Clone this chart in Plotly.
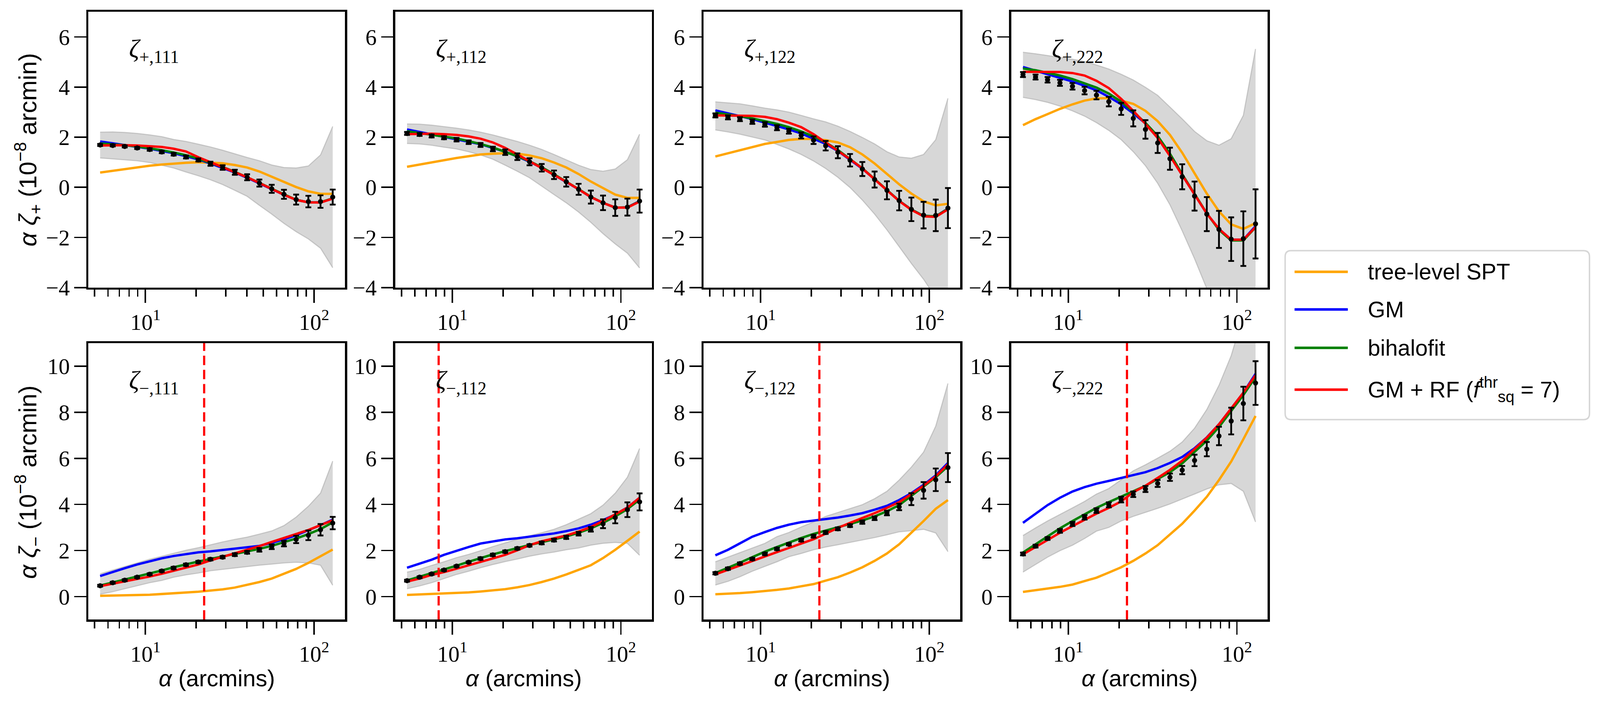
import plotly.graph_objects as go
from plotly.subplots import make_subplots

# angular scale alpha (arcmin), 20 log-spaced bins
alpha = [5.39, 6.40, 7.54, 8.93, 10.6, 12.5, 14.7, 17.4, 20.6, 24.3,
         28.7, 33.9, 40.1, 47.4, 56.1, 66.3, 78.3, 92.5, 109.2, 129.0]

# ---- zeta_+ (top row) ----
zp111_data = [1.69, 1.67, 1.63, 1.57, 1.51, 1.41, 1.32, 1.21, 1.09, 0.94, 0.79, 0.60, 0.40, 0.17, -0.06, -0.28, -0.49, -0.57, -0.57, -0.39]
zp111_err = [0.04, 0.04, 0.04, 0.04, 0.05, 0.05, 0.05, 0.06, 0.06, 0.08, 0.09, 0.10, 0.12, 0.14, 0.16, 0.18, 0.20, 0.23, 0.25, 0.30]
zp111_hi = [2.20, 2.21, 2.19, 2.15, 2.09, 2.02, 1.91, 1.83, 1.72, 1.61, 1.48, 1.33, 1.19, 1.06, 0.89, 0.79, 0.77, 0.85, 1.29, 2.43]
zp111_lo = [1.17, 1.13, 1.10, 1.06, 0.99, 0.88, 0.77, 0.61, 0.46, 0.30, 0.11, -0.12, -0.36, -0.72, -1.07, -1.44, -1.77, -2.06, -2.43, -3.21]
zp111_spt = [0.59, 0.66, 0.73, 0.80, 0.86, 0.91, 0.95, 0.98, 1.00, 0.99, 0.96, 0.89, 0.79, 0.63, 0.42, 0.21, 0.01, -0.16, -0.26, -0.26]
zp111_gm = [1.83, 1.76, 1.69, 1.62, 1.54, 1.45, 1.36, 1.24, 1.11, 0.95, 0.78, 0.59, 0.38, 0.15, -0.08, -0.30, -0.50, -0.60, -0.60, -0.45]
zp111_bh = [1.75, 1.72, 1.68, 1.63, 1.56, 1.48, 1.39, 1.28, 1.14, 0.98, 0.81, 0.62, 0.41, 0.18, -0.06, -0.29, -0.50, -0.60, -0.60, -0.44]
zp111_rf = [1.67, 1.68, 1.68, 1.67, 1.65, 1.61, 1.54, 1.43, 1.20, 1.00, 0.81, 0.61, 0.40, 0.17, -0.07, -0.30, -0.50, -0.60, -0.61, -0.45]

zp112_data = [2.15, 2.11, 2.05, 1.98, 1.90, 1.80, 1.69, 1.53, 1.40, 1.22, 1.02, 0.78, 0.50, 0.22, -0.08, -0.39, -0.62, -0.81, -0.79, -0.55]
zp112_err = [0.06, 0.06, 0.06, 0.06, 0.07, 0.07, 0.08, 0.09, 0.11, 0.13, 0.14, 0.15, 0.17, 0.19, 0.22, 0.26, 0.29, 0.33, 0.34, 0.46]
zp112_hi = [2.53, 2.52, 2.48, 2.42, 2.36, 2.29, 2.20, 2.09, 1.96, 1.83, 1.68, 1.51, 1.31, 1.10, 0.88, 0.71, 0.64, 0.73, 1.10, 2.12]
zp112_lo = [1.75, 1.73, 1.68, 1.60, 1.53, 1.42, 1.29, 1.12, 0.88, 0.64, 0.38, 0.04, -0.29, -0.62, -0.99, -1.40, -1.85, -2.26, -2.63, -3.22]
zp112_spt = [0.82, 0.91, 1.00, 1.09, 1.17, 1.24, 1.31, 1.34, 1.36, 1.34, 1.27, 1.16, 0.99, 0.79, 0.53, 0.23, -0.04, -0.29, -0.42, -0.42]
zp112_gm = [2.31, 2.21, 2.12, 2.03, 1.93, 1.83, 1.72, 1.57, 1.42, 1.23, 1.02, 0.78, 0.50, 0.22, -0.08, -0.39, -0.62, -0.81, -0.80, -0.55]
zp112_bh = [2.24, 2.17, 2.10, 2.03, 1.95, 1.84, 1.73, 1.59, 1.42, 1.24, 1.04, 0.80, 0.52, 0.23, -0.07, -0.38, -0.62, -0.81, -0.80, -0.56]
zp112_rf = [2.12, 2.13, 2.14, 2.12, 2.09, 2.03, 1.94, 1.79, 1.57, 1.31, 1.04, 0.79, 0.51, 0.22, -0.08, -0.39, -0.62, -0.81, -0.81, -0.57]

zp122_data = [2.87, 2.79, 2.72, 2.62, 2.51, 2.38, 2.24, 2.07, 1.88, 1.66, 1.40, 1.08, 0.73, 0.31, -0.12, -0.53, -0.88, -1.11, -1.12, -0.83]
zp122_err = [0.08, 0.08, 0.08, 0.09, 0.09, 0.10, 0.10, 0.12, 0.15, 0.19, 0.24, 0.25, 0.28, 0.32, 0.36, 0.39, 0.47, 0.53, 0.63, 0.80]
zp122_hi = [3.41, 3.37, 3.33, 3.25, 3.16, 3.09, 3.00, 2.87, 2.73, 2.61, 2.44, 2.23, 1.99, 1.73, 1.42, 1.21, 1.16, 1.31, 1.90, 3.55]
zp122_lo = [2.29, 2.21, 2.12, 2.01, 1.89, 1.71, 1.53, 1.31, 1.05, 0.75, 0.40, -0.01, -0.51, -1.07, -1.70, -2.37, -3.04, -3.67, -4.40, -5.00]
zp122_spt = [1.23, 1.36, 1.49, 1.61, 1.73, 1.81, 1.89, 1.93, 1.93, 1.88, 1.79, 1.60, 1.31, 0.95, 0.54, 0.12, -0.25, -0.56, -0.72, -0.66]
zp122_gm = [3.07, 2.96, 2.84, 2.72, 2.58, 2.44, 2.31, 2.15, 1.95, 1.73, 1.45, 1.10, 0.74, 0.32, -0.12, -0.54, -0.89, -1.14, -1.16, -0.85]
zp122_bh = [2.98, 2.92, 2.84, 2.75, 2.64, 2.53, 2.40, 2.23, 2.03, 1.79, 1.49, 1.13, 0.76, 0.33, -0.11, -0.54, -0.89, -1.14, -1.16, -0.86]
zp122_rf = [2.87, 2.87, 2.87, 2.85, 2.81, 2.72, 2.58, 2.40, 2.12, 1.79, 1.46, 1.12, 0.75, 0.32, -0.12, -0.55, -0.90, -1.16, -1.18, -0.88]

zp222_data = [4.50, 4.40, 4.29, 4.17, 4.03, 3.86, 3.68, 3.42, 3.13, 2.75, 2.31, 1.77, 1.14, 0.42, -0.35, -1.07, -1.68, -2.07, -2.05, -1.46]
zp222_err = [0.10, 0.10, 0.11, 0.12, 0.13, 0.15, 0.17, 0.19, 0.24, 0.32, 0.37, 0.40, 0.44, 0.50, 0.58, 0.68, 0.74, 0.87, 1.09, 1.38]
zp222_hi = [5.39, 5.33, 5.26, 5.18, 5.11, 5.02, 4.88, 4.72, 4.51, 4.28, 3.99, 3.67, 3.20, 2.73, 2.23, 1.86, 1.68, 1.94, 2.87, 5.52]
zp222_lo = [3.59, 3.50, 3.39, 3.24, 3.05, 2.84, 2.58, 2.27, 1.90, 1.42, 0.86, 0.16, -0.70, -1.74, -2.85, -4.04, -5.20, -6.40, -7.60, -8.80]
zp222_spt = [2.48, 2.72, 2.92, 3.13, 3.31, 3.46, 3.55, 3.56, 3.46, 3.33, 3.05, 2.64, 2.09, 1.38, 0.56, -0.25, -0.96, -1.48, -1.66, -1.43]
zp222_gm = [4.80, 4.65, 4.51, 4.37, 4.22, 4.05, 3.87, 3.61, 3.31, 2.95, 2.55, 2.01, 1.27, 0.49, -0.30, -1.05, -1.66, -2.09, -2.09, -1.55]
zp222_bh = [4.74, 4.67, 4.57, 4.46, 4.32, 4.16, 3.98, 3.74, 3.42, 3.01, 2.57, 2.05, 1.34, 0.52, -0.28, -1.04, -1.70, -2.12, -2.12, -1.60]
zp222_rf = [4.61, 4.61, 4.61, 4.60, 4.56, 4.46, 4.25, 3.96, 3.53, 3.05, 2.53, 1.97, 1.25, 0.49, -0.29, -1.05, -1.66, -2.09, -2.09, -1.59]

# ---- zeta_- (bottom row) ----
zm111_data = [0.47, 0.60, 0.71, 0.84, 0.97, 1.11, 1.24, 1.38, 1.50, 1.62, 1.71, 1.82, 1.92, 2.03, 2.16, 2.30, 2.48, 2.66, 2.90, 3.19]
zm111_err = [0.04, 0.04, 0.04, 0.04, 0.04, 0.04, 0.05, 0.05, 0.05, 0.05, 0.05, 0.06, 0.06, 0.08, 0.10, 0.12, 0.16, 0.21, 0.25, 0.27]
zm111_hi = [0.99, 1.15, 1.31, 1.46, 1.62, 1.75, 1.88, 2.01, 2.12, 2.25, 2.37, 2.48, 2.58, 2.71, 2.85, 3.08, 3.45, 3.92, 4.49, 5.88]
zm111_lo = [0.10, 0.21, 0.34, 0.47, 0.60, 0.70, 0.84, 0.94, 1.02, 1.12, 1.18, 1.25, 1.31, 1.36, 1.41, 1.46, 1.49, 1.46, 1.36, 0.49]
zm111_spt = [0.03, 0.04, 0.05, 0.06, 0.08, 0.11, 0.14, 0.17, 0.21, 0.26, 0.31, 0.39, 0.50, 0.63, 0.78, 0.99, 1.20, 1.46, 1.75, 2.04]
zm111_gm = [0.89, 1.07, 1.23, 1.39, 1.54, 1.66, 1.76, 1.85, 1.92, 1.96, 2.02, 2.06, 2.12, 2.20, 2.33, 2.48, 2.66, 2.87, 3.10, 3.34]
zm111_bh = [0.48, 0.61, 0.73, 0.86, 1.00, 1.13, 1.27, 1.40, 1.52, 1.63, 1.74, 1.85, 1.95, 2.07, 2.20, 2.35, 2.52, 2.71, 2.93, 3.22]
zm111_rf = [0.45, 0.55, 0.66, 0.76, 0.87, 0.99, 1.12, 1.25, 1.39, 1.57, 1.72, 1.88, 2.04, 2.19, 2.37, 2.54, 2.72, 2.89, 3.10, 3.31]

zm112_data = [0.69, 0.84, 0.98, 1.15, 1.32, 1.49, 1.65, 1.81, 1.95, 2.09, 2.22, 2.33, 2.45, 2.57, 2.73, 2.92, 3.16, 3.43, 3.77, 4.11]
zm112_err = [0.04, 0.04, 0.04, 0.04, 0.04, 0.04, 0.05, 0.05, 0.05, 0.05, 0.05, 0.06, 0.06, 0.07, 0.08, 0.10, 0.19, 0.25, 0.32, 0.37]
zm112_hi = [1.06, 1.18, 1.35, 1.51, 1.69, 1.83, 1.99, 2.17, 2.33, 2.48, 2.64, 2.77, 2.92, 3.12, 3.36, 3.60, 3.97, 4.49, 5.18, 6.43]
zm112_lo = [0.34, 0.46, 0.60, 0.78, 0.96, 1.10, 1.25, 1.39, 1.52, 1.63, 1.75, 1.85, 1.93, 2.03, 2.11, 2.23, 2.31, 2.35, 2.31, 1.79]
zm112_spt = [0.07, 0.09, 0.11, 0.13, 0.15, 0.18, 0.22, 0.27, 0.32, 0.40, 0.50, 0.63, 0.78, 0.96, 1.15, 1.36, 1.67, 2.03, 2.42, 2.82]
zm112_gm = [1.25, 1.43, 1.60, 1.81, 1.99, 2.15, 2.30, 2.40, 2.48, 2.53, 2.60, 2.65, 2.74, 2.84, 2.96, 3.12, 3.32, 3.56, 3.87, 4.29]
zm112_bh = [0.70, 0.86, 1.00, 1.17, 1.34, 1.51, 1.67, 1.83, 1.97, 2.11, 2.24, 2.36, 2.48, 2.61, 2.77, 2.96, 3.20, 3.48, 3.80, 4.21]
zm112_rf = [0.65, 0.78, 0.94, 1.06, 1.21, 1.36, 1.49, 1.65, 1.81, 2.01, 2.23, 2.40, 2.52, 2.65, 2.82, 3.02, 3.28, 3.56, 3.86, 4.29]

zm122_data = [1.01, 1.21, 1.43, 1.63, 1.85, 2.07, 2.27, 2.45, 2.62, 2.78, 2.94, 3.08, 3.23, 3.40, 3.63, 3.89, 4.23, 4.61, 5.07, 5.60]
zm122_err = [0.05, 0.05, 0.05, 0.05, 0.05, 0.05, 0.05, 0.06, 0.06, 0.06, 0.06, 0.06, 0.07, 0.08, 0.10, 0.14, 0.26, 0.36, 0.49, 0.63]
zm122_hi = [1.51, 1.71, 1.91, 2.11, 2.31, 2.60, 2.78, 3.02, 3.24, 3.48, 3.65, 3.81, 3.99, 4.25, 4.57, 5.06, 5.62, 6.27, 7.40, 9.25]
zm122_lo = [0.50, 0.66, 0.86, 1.10, 1.31, 1.51, 1.73, 1.87, 2.03, 2.15, 2.25, 2.35, 2.46, 2.56, 2.68, 2.81, 2.86, 2.92, 2.76, 1.95]
zm122_spt = [0.10, 0.12, 0.15, 0.19, 0.23, 0.29, 0.35, 0.44, 0.54, 0.69, 0.84, 1.04, 1.27, 1.55, 1.87, 2.27, 2.76, 3.28, 3.81, 4.19]
zm122_gm = [1.79, 2.03, 2.31, 2.60, 2.80, 2.98, 3.12, 3.23, 3.30, 3.36, 3.43, 3.52, 3.62, 3.77, 3.94, 4.19, 4.49, 4.85, 5.26, 5.80]
zm122_bh = [1.02, 1.24, 1.47, 1.71, 1.95, 2.15, 2.35, 2.54, 2.72, 2.86, 3.00, 3.15, 3.30, 3.48, 3.70, 3.97, 4.37, 4.77, 5.18, 5.66]
zm122_rf = [0.96, 1.16, 1.36, 1.56, 1.75, 1.93, 2.11, 2.30, 2.49, 2.73, 2.98, 3.20, 3.40, 3.62, 3.85, 4.10, 4.45, 4.81, 5.22, 5.74]

zm222_data = [1.85, 2.19, 2.52, 2.85, 3.15, 3.44, 3.73, 3.98, 4.21, 4.44, 4.67, 4.91, 5.18, 5.49, 5.91, 6.40, 6.97, 7.62, 8.38, 9.27]
zm222_err = [0.06, 0.06, 0.06, 0.08, 0.09, 0.10, 0.10, 0.11, 0.12, 0.12, 0.13, 0.15, 0.16, 0.18, 0.25, 0.31, 0.40, 0.58, 0.73, 0.95]
zm222_hi = [2.65, 2.98, 3.28, 3.56, 3.85, 4.13, 4.45, 4.69, 5.07, 5.46, 5.72, 6.01, 6.31, 6.71, 7.31, 8.12, 9.17, 10.46, 12.30, 14.00]
zm222_lo = [1.06, 1.39, 1.71, 1.99, 2.23, 2.52, 2.84, 3.00, 3.28, 3.48, 3.65, 3.83, 4.02, 4.23, 4.45, 4.67, 4.85, 4.91, 4.57, 3.24]
zm222_spt = [0.20, 0.27, 0.34, 0.42, 0.52, 0.66, 0.82, 1.04, 1.27, 1.55, 1.87, 2.23, 2.68, 3.16, 3.73, 4.33, 5.06, 5.86, 6.83, 7.84]
zm222_gm = [3.20, 3.60, 3.97, 4.29, 4.56, 4.75, 4.90, 5.02, 5.14, 5.26, 5.40, 5.58, 5.80, 6.06, 6.44, 6.91, 7.48, 8.16, 8.85, 9.67]
zm222_bh = [1.91, 2.27, 2.62, 2.96, 3.28, 3.56, 3.85, 4.10, 4.35, 4.57, 4.81, 5.10, 5.40, 5.78, 6.27, 6.77, 7.36, 8.04, 8.75, 9.53]
zm222_rf = [1.83, 2.15, 2.48, 2.77, 3.06, 3.34, 3.60, 3.85, 4.13, 4.53, 4.81, 5.15, 5.50, 5.90, 6.39, 6.90, 7.48, 8.16, 8.85, 9.61]

# alpha of the red dashed cut in the bottom panels
zm_cut = [22.3, 8.3, 22.3, 22.3]

model_names = ["tree-level SPT", "GM", "bihalofit",
               "GM + RF (<i>f</i><sup>thr</sup><sub>sq</sub> = 7)"]
model_colors = ["orange", "blue", "green", "red"]

panels = [
    (1, 1, "+,111", zp111_data, zp111_err, zp111_lo, zp111_hi, [zp111_spt, zp111_gm, zp111_bh, zp111_rf], None),
    (1, 2, "+,112", zp112_data, zp112_err, zp112_lo, zp112_hi, [zp112_spt, zp112_gm, zp112_bh, zp112_rf], None),
    (1, 3, "+,122", zp122_data, zp122_err, zp122_lo, zp122_hi, [zp122_spt, zp122_gm, zp122_bh, zp122_rf], None),
    (1, 4, "+,222", zp222_data, zp222_err, zp222_lo, zp222_hi, [zp222_spt, zp222_gm, zp222_bh, zp222_rf], None),
    (2, 1, "−,111", zm111_data, zm111_err, zm111_lo, zm111_hi, [zm111_spt, zm111_gm, zm111_bh, zm111_rf], zm_cut[0]),
    (2, 2, "−,112", zm112_data, zm112_err, zm112_lo, zm112_hi, [zm112_spt, zm112_gm, zm112_bh, zm112_rf], zm_cut[1]),
    (2, 3, "−,122", zm122_data, zm122_err, zm122_lo, zm122_hi, [zm122_spt, zm122_gm, zm122_bh, zm122_rf], zm_cut[2]),
    (2, 4, "−,222", zm222_data, zm222_err, zm222_lo, zm222_hi, [zm222_spt, zm222_gm, zm222_bh, zm222_rf], zm_cut[3]),
]

W, H = 4416, 1832
col_left = [244, 1091, 1942, 2791]
col_w = 708
row_top = [31, 894]
row_h = [718, 720]

SERIF = "Liberation Serif, DejaVu Serif, serif"
SANS = "Liberation Sans Narrow, Liberation Sans, DejaVu Sans, sans-serif"

fig = make_subplots(rows=2, cols=4)

for row, col, lab, data, err, lo, hi, models, cut in panels:
    # grey band
    fig.add_trace(go.Scatter(x=alpha, y=lo, mode="lines",
                             line=dict(color="rgba(150,150,150,0.45)", width=3),
                             showlegend=False, hoverinfo="skip"), row=row, col=col)
    fig.add_trace(go.Scatter(x=alpha, y=hi, mode="lines", fill="tonexty",
                             fillcolor="rgba(185,185,185,0.57)",
                             line=dict(color="rgba(150,150,150,0.45)", width=3),
                             showlegend=False, hoverinfo="skip"), row=row, col=col)
    for name, color, vals in zip(model_names, model_colors, models):
        fig.add_trace(go.Scatter(x=alpha, y=vals, mode="lines", name=name,
                                 line=dict(color=color, width=6.5),
                                 showlegend=False), row=row, col=col)
    fig.add_trace(go.Scatter(x=alpha, y=data, mode="markers",
                             marker=dict(color="black", size=14),
                             error_y=dict(type="data", array=err, color="black",
                                          thickness=5, width=8),
                             showlegend=False), row=row, col=col)
    if cut is not None:
        fig.add_trace(go.Scatter(x=[cut, cut], y=[-1, 11], mode="lines",
                                 line=dict(color="red", width=6, dash="26px,13px"),
                                 showlegend=False), row=row, col=col)

    idx = (row - 1) * 4 + col
    xd = [col_left[col - 1] / W, (col_left[col - 1] + col_w) / W]
    yd = [1 - (row_top[row - 1] + row_h[row - 1]) / H, 1 - row_top[row - 1] / H]
    xa = "xaxis" if idx == 1 else f"xaxis{idx}"
    ya = "yaxis" if idx == 1 else f"yaxis{idx}"
    if row == 1:
        yvals, yrange = [-4, -2, 0, 2, 4, 6], [-4, 7]
    else:
        yvals, yrange = [0, 2, 4, 6, 8, 10], [-1, 11]
    fig.layout[xa].update(
        domain=xd, type="log", range=[0.662, 2.183],
        tickvals=[10, 100], ticktext=["10<sup>1</sup>", "10<sup>2</sup>"],
        ticks="outside", ticklen=36, tickwidth=4, tickcolor="black",
        minor=dict(tickvals=[5, 6, 7, 8, 9, 20, 30, 40, 50, 60, 70, 80, 90],
                   ticks="outside", ticklen=19, tickwidth=3.5, tickcolor="black"),
        showline=True, linecolor="black", linewidth=6, mirror=True,
        showgrid=False, zeroline=False,
        tickfont=dict(family=SERIF, size=62, color="black"))
    fig.layout[ya].update(
        domain=yd, range=yrange,
        tickvals=yvals, ticktext=[str(v).replace("-", "−") for v in yvals],
        ticks="outside", ticklen=33, tickwidth=4, tickcolor="black",
        showline=True, linecolor="black", linewidth=6, mirror=True,
        showgrid=False, zeroline=False,
        tickfont=dict(family=SERIF, size=62, color="black"))

    xref = "x domain" if idx == 1 else f"x{idx} domain"
    yref = "y domain" if idx == 1 else f"y{idx} domain"
    fig.add_annotation(xref=xref, yref=yref, x=0.155, y=0.858,
                       xanchor="left", yanchor="middle", showarrow=False,
                       text=f"<i>ζ</i><sub>{lab}</sub>",
                       font=dict(family=SERIF, size=70, color="black"))

# axis titles
fig.add_annotation(xref="paper", yref="paper", x=77 / W, y=1 - 390 / H,
                   xanchor="center", yanchor="middle",
                   textangle=-90, showarrow=False,
                   text="<i>α ζ</i><sub>+</sub> (10<sup>−8</sup> arcmin)",
                   font=dict(family=SANS, size=68, color="black"))
fig.add_annotation(xref="paper", yref="paper", x=77 / W, y=1 - 1256 / H,
                   xanchor="center", yanchor="middle",
                   textangle=-90, showarrow=False,
                   text="<i>α ζ</i><sub>−</sub> (10<sup>−8</sup> arcmin)",
                   font=dict(family=SANS, size=68, color="black"))
for c in range(4):
    fig.add_annotation(xref="paper", yref="paper",
                       x=(col_left[c] + col_w / 2) / W, y=1 - 1767 / H,
                       xanchor="center", yanchor="middle",
                       showarrow=False, text="<i>α</i> (arcmins)",
                       font=dict(family=SANS, size=64, color="black"))

# legend box drawn in paper coordinates (rounded frame, line samples, labels)
bx0, bx1, by0, by1, r = 3547, 4387, 653, 1093, 16


def px(v):
    return v / W


def py(v):
    return 1 - v / H


box_path = (
    f"M {px(bx0 + r)},{py(by0)} L {px(bx1 - r)},{py(by0)} "
    f"Q {px(bx1)},{py(by0)} {px(bx1)},{py(by0 + r)} "
    f"L {px(bx1)},{py(by1 - r)} Q {px(bx1)},{py(by1)} {px(bx1 - r)},{py(by1)} "
    f"L {px(bx0 + r)},{py(by1)} Q {px(bx0)},{py(by1)} {px(bx0)},{py(by1 - r)} "
    f"L {px(bx0)},{py(by0 + r)} Q {px(bx0)},{py(by0)} {px(bx0 + r)},{py(by0)} Z"
)
fig.add_shape(type="path", xref="paper", yref="paper", path=box_path,
              line=dict(color="#d6d6d6", width=4), fillcolor="white", layer="above")

legend_rows = [708, 806, 906, 1015]
for name, color, yrow in zip(model_names, model_colors, legend_rows):
    fig.add_shape(type="line", xref="paper", yref="paper",
                  x0=px(3573), x1=px(3720), y0=py(yrow), y1=py(yrow),
                  line=dict(color=color, width=7), layer="above")
    fig.add_annotation(xref="paper", yref="paper", x=px(3773), y=py(yrow),
                       xanchor="left", yanchor="middle", showarrow=False,
                       text=name, font=dict(family=SANS, size=62, color="black"))

fig.update_layout(
    width=W, height=H, autosize=False,
    margin=dict(l=0, r=0, t=0, b=0),
    paper_bgcolor="white", plot_bgcolor="white",
    showlegend=False,
)

# scale the fixed-size figure so it fills the visible window
fit_js = """
var gd = document.getElementById('{plot_id}');
document.documentElement.style.margin = '0';
document.body.style.margin = '0';
document.body.style.overflow = 'hidden';
var vw = window.innerWidth, vh = window.innerHeight;
if (vw > 0 && vh > 0) {
  var s = vw / %d;
  var h = Math.round(vh / s);
  gd.style.height = h + 'px';
  Plotly.relayout(gd, {height: h});
  gd.style.transformOrigin = '0 0';
  gd.style.transform = 'scale(' + s + ')';
  gd.parentElement.style.width = vw + 'px';
  gd.parentElement.style.height = vh + 'px';
  gd.parentElement.style.overflow = 'hidden';
}
""" % W

fig.write_html("out.html", post_script=fit_js,
               config={"displayModeBar": False})
